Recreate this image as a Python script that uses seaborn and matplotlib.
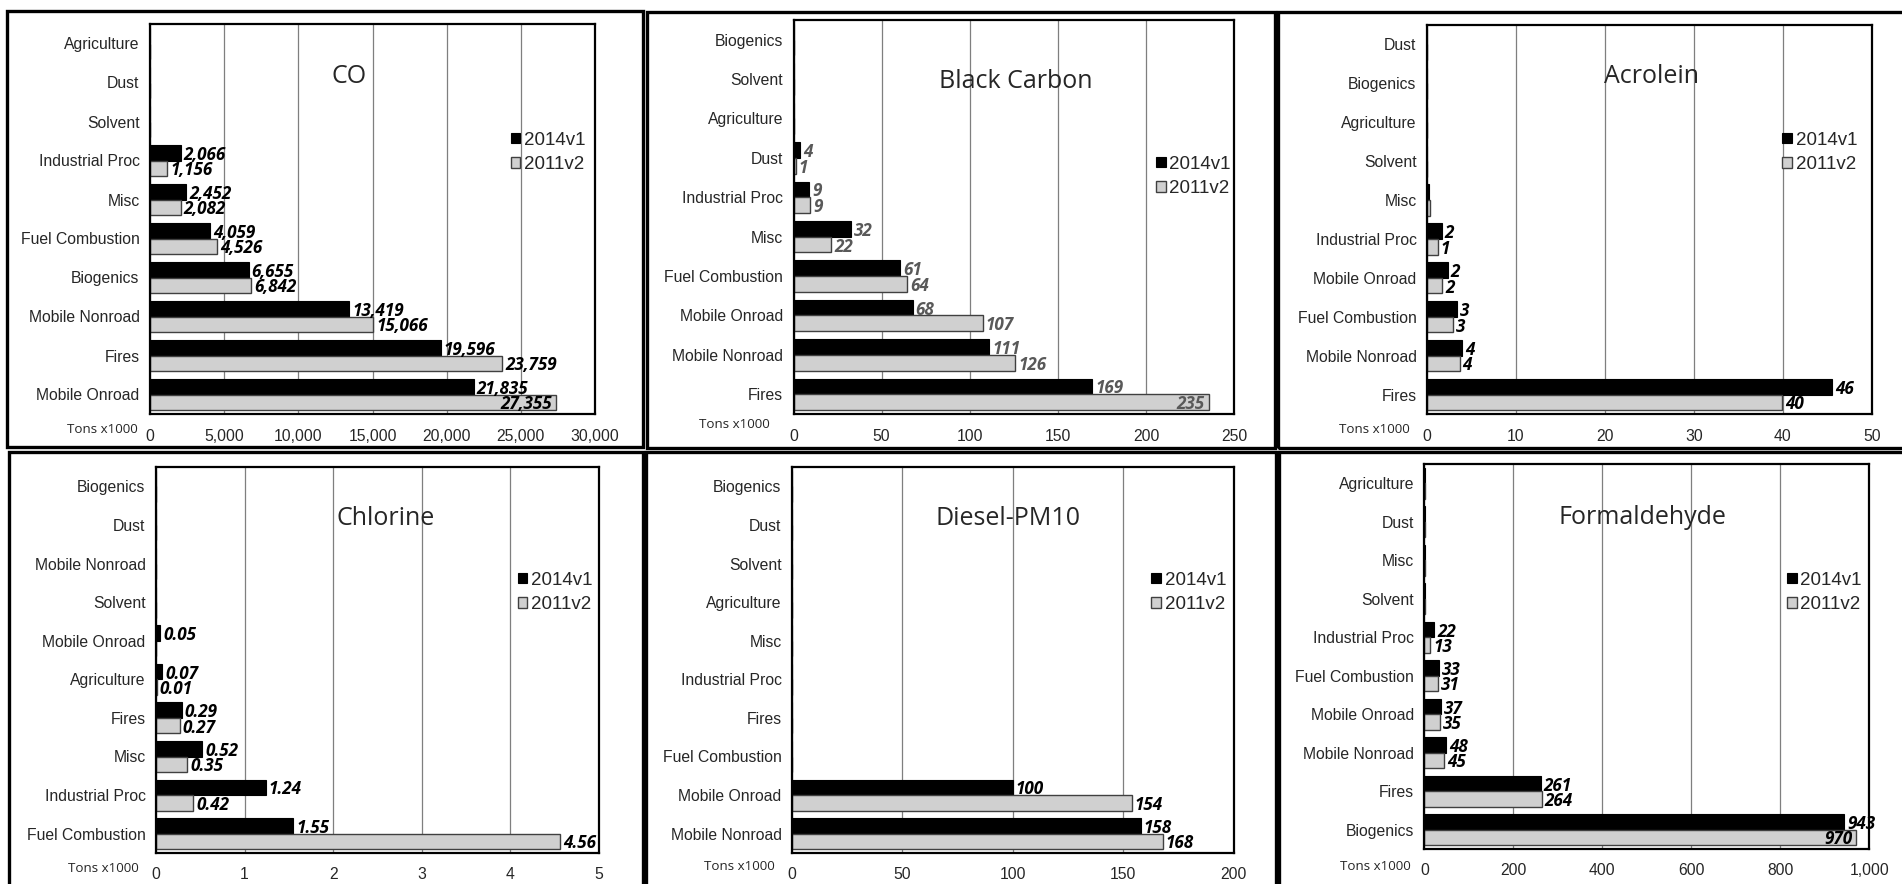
import numpy as np
import pandas as pd
import matplotlib
matplotlib.use("Agg")
import matplotlib.pyplot as plt
import seaborn as sns
from matplotlib.patches import Patch, Rectangle
from matplotlib.font_manager import FontProperties

# ---------------- data ----------------
SERIES = ["2014v1", "2011v2"]

CO_CATS = ["Agriculture", "Dust", "Solvent", "Industrial Proc", "Misc", "Fuel Combustion",
           "Biogenics", "Mobile Nonroad", "Fires", "Mobile Onroad"]
CO_2014 = [20, 25, 5, 2066, 2452, 4059, 6655, 13419, 19596, 21835]
CO_2011 = [15, 20, 5, 1156, 2082, 4526, 6842, 15066, 23759, 27355]
CO_TICKS = [0, 5000, 10000, 15000, 20000, 25000, 30000]

BC_CATS = ["Biogenics", "Solvent", "Agriculture", "Dust", "Industrial Proc", "Misc",
           "Fuel Combustion", "Mobile Onroad", "Mobile Nonroad", "Fires"]
BC_2014 = [0, 0.3, 0.3, 3.7, 8.8, 32.4, 60.6, 67.6, 110.9, 169.4]
BC_2011 = [0, 0.2, 0.2, 1.3, 9.3, 21.5, 64.4, 107.2, 125.9, 235.4]
BC_TICKS = [0, 50, 100, 150, 200, 250]

AC_CATS = ["Dust", "Biogenics", "Agriculture", "Solvent", "Misc", "Industrial Proc",
           "Mobile Onroad", "Fuel Combustion", "Mobile Nonroad", "Fires"]
AC_2014 = [0, 0, 0.05, 0.05, 0.28, 1.65, 2.34, 3.39, 3.94, 45.55]
AC_2011 = [0, 0, 0.03, 0.04, 0.37, 1.19, 1.70, 2.94, 3.67, 39.86]
AC_TICKS = [0, 10, 20, 30, 40, 50]

CL_CATS = ["Biogenics", "Dust", "Mobile Nonroad", "Solvent", "Mobile Onroad", "Agriculture",
           "Fires", "Misc", "Industrial Proc", "Fuel Combustion"]
CL_2014 = [0, 0, 0, 0, 0.05, 0.07, 0.29, 0.52, 1.24, 1.55]
CL_2011 = [0, 0, 0, 0, 0.002, 0.01, 0.27, 0.35, 0.42, 4.56]
CL_TICKS = [0, 1, 2, 3, 4, 5]

DP_CATS = ["Biogenics", "Dust", "Solvent", "Agriculture", "Misc", "Industrial Proc",
           "Fires", "Fuel Combustion", "Mobile Onroad", "Mobile Nonroad"]
DP_2014 = [0, 0, 0, 0, 0, 0, 0, 0, 100, 158]
DP_2011 = [0, 0, 0, 0, 0, 0, 0, 0, 154, 168]
DP_TICKS = [0, 50, 100, 150, 200]

FO_CATS = ["Agriculture", "Dust", "Misc", "Solvent", "Industrial Proc", "Fuel Combustion",
           "Mobile Onroad", "Mobile Nonroad", "Fires", "Biogenics"]
FO_2014 = [1.5, 1.5, 1.5, 1.5, 22, 33, 37, 48, 261, 943]
FO_2011 = [1, 1, 1, 1, 13, 31, 35, 45, 264, 970]
FO_TICKS = [0, 200, 400, 600, 800, 1000]

UNIT_LABEL = "Tons x1000"

# ---------------- style ----------------
sns.set_style("white")
plt.rcParams["font.family"] = ["Liberation Sans", "DejaVu Sans"]

W, H = 1902, 884
fig = plt.figure(figsize=(W / 100, H / 100), dpi=100)

C14 = "#000000"
C11 = "#d0d0d0"
EDGE11 = "#404040"


def fx(x):
    return x / W


def fy(y):
    return 1 - y / H


panels = [
    dict(title="CO", cats=CO_CATS, v14=CO_2014, v11=CO_2011, ticks=CO_TICKS,
         tfmt="{:,.0f}", lfmt="{:,.0f}", lcol="black", minlab=100, inside=["Mobile Onroad"],
         box=(150, 24, 595, 414), leg=(511, 152.5), tpos=(349, 83.3), upos=(138, 429),
         frame=(6.5, 10.5, 643, 447), pad=11),
    dict(title="Black Carbon", cats=BC_CATS, v14=BC_2014, v11=BC_2011, ticks=BC_TICKS,
         tfmt="{:.0f}", lfmt="{:.0f}", lcol="#595959", minlab=0.5, inside=["Fires"],
         box=(793.5, 20, 1234.3, 414), leg=(1156.3, 176.5), tpos=(1015.5, 88.3), upos=(770, 424),
         frame=(647, 11.5, 1275, 448), pad=11),
    dict(title="Acrolein", cats=AC_CATS, v14=AC_2014, v11=AC_2011, ticks=AC_TICKS,
         tfmt="{:.0f}", lfmt="{:.0f}", lcol="black", minlab=0.5, inside=[],
         box=(1427, 25, 1872, 414), leg=(1782.4, 152.5), tpos=(1651.8, 83.3), upos=(1410, 429),
         frame=(1278, 11.5, 1930, 448), pad=11),
    dict(title="Chlorine", cats=CL_CATS, v14=CL_2014, v11=CL_2011, ticks=CL_TICKS,
         tfmt="{:.0f}", lfmt="{:.2f}", lcol="black", minlab=0.005, inside=[],
         box=(156, 467, 599, 853), leg=(517.6, 592.5), tpos=(385.7, 525), upos=(139, 868),
         frame=(9, 452, 643, 920), pad=10),
    dict(title="Diesel-PM10", cats=DP_CATS, v14=DP_2014, v11=DP_2011, ticks=DP_TICKS,
         tfmt="{:.0f}", lfmt="{:.0f}", lcol="black", minlab=0.5, inside=[],
         box=(792, 467, 1233.5, 853), leg=(1151.4, 592.5), tpos=(1008.2, 525), upos=(775, 867),
         frame=(645.5, 452, 1276, 920), pad=10),
    dict(title="Formaldehyde", cats=FO_CATS, v14=FO_2014, v11=FO_2011, ticks=FO_TICKS,
         tfmt="{:,.0f}", lfmt="{:,.0f}", lcol="black", minlab=5, inside=["Biogenics"],
         box=(1424.4, 464, 1869.3, 849), leg=(1787.3, 592.5), tpos=(1642, 524), upos=(1411, 867),
         frame=(1279, 452, 1930, 920), pad=10),
]

tick_fp = FontProperties(family=["Liberation Sans", "DejaVu Sans"], size=11.3)
leg_fp = FontProperties(family=["Liberation Sans", "DejaVu Sans"], size=13.5)
lab_fp = FontProperties(family=["Open Sans", "DejaVu Sans"], size=12.3, weight="bold", style="italic")
title_fp = FontProperties(family=["Open Sans", "DejaVu Sans"], size=18)
unit_fp = FontProperties(family=["Open Sans", "DejaVu Sans"], size=9.6)

for p in panels:
    l, t, r, b = p["box"]
    ax = fig.add_axes([fx(l), fy(b), (r - l) / W, (b - t) / H])

    df = pd.DataFrame({
        "category": list(p["cats"]) * 2,
        "series": [SERIES[0]] * len(p["cats"]) + [SERIES[1]] * len(p["cats"]),
        "value": list(p["v14"]) + list(p["v11"]),
    })
    sns.barplot(data=df, x="value", y="category", hue="series", order=p["cats"],
                hue_order=SERIES, palette={SERIES[0]: C14, SERIES[1]: C11},
                orient="h", width=0.8, dodge=True, saturation=1, errorbar=None,
                legend=False, ax=ax, zorder=3)

    for k, cont in enumerate(ax.containers[:2]):
        for patch in cont:
            if k == 0:
                patch.set_edgecolor("black")
                patch.set_linewidth(0.8)
            else:
                patch.set_edgecolor(EDGE11)
                patch.set_linewidth(1.0)

    xmax = p["ticks"][-1]
    ax.set_xlim(0, xmax)
    ax.set_ylim(len(p["cats"]) - 0.5, -0.5)
    ax.set_xticks(p["ticks"])
    ax.set_xticklabels([p["tfmt"].format(v) for v in p["ticks"]], fontproperties=tick_fp)
    ax.set_yticks(range(len(p["cats"])))
    ax.set_yticklabels(p["cats"], fontproperties=tick_fp)
    ax.tick_params(axis="both", length=0)
    ax.tick_params(axis="x", pad=p["pad"])
    ax.tick_params(axis="y", pad=7.5)
    ax.set_xlabel("")
    ax.set_ylabel("")
    ax.xaxis.grid(True, color="#7f7f7f", linewidth=0.9, zorder=0)
    ax.yaxis.grid(False)
    ax.set_axisbelow(True)
    for s in ax.spines.values():
        s.set_visible(True)
        s.set_color("black")
        s.set_linewidth(1.6)
        s.set_zorder(5)

    # value labels
    for k, cont in enumerate(ax.containers[:2]):
        vals = p["v14"] if k == 0 else p["v11"]
        for cat, val, patch in zip(p["cats"], vals, cont):
            if val < p["minlab"]:
                continue
            yc = patch.get_y() + patch.get_height() / 2
            txt = p["lfmt"].format(val)
            if k == 1 and cat in p["inside"]:
                ax.annotate(txt, xy=(val, yc), xytext=(-4, 0), textcoords="offset pixels",
                            ha="right", va="center_baseline", color=p["lcol"],
                            fontproperties=lab_fp, zorder=6, annotation_clip=False)
            else:
                ax.annotate(txt, xy=(val, yc), xytext=(3, 0), textcoords="offset pixels",
                            ha="left", va="center_baseline", color=p["lcol"],
                            fontproperties=lab_fp, zorder=6, annotation_clip=False)

    # legend
    handles = [Patch(facecolor=C14, edgecolor="black", linewidth=0.8),
               Patch(facecolor=C11, edgecolor=EDGE11, linewidth=1.0)]
    lx, ly = p["leg"]
    ax.legend(handles, SERIES, loc="center left", bbox_to_anchor=(fx(lx), fy(ly)),
              bbox_transform=fig.transFigure, frameon=False, borderpad=0, borderaxespad=0,
              handlelength=0.5, handleheight=0.5, handletextpad=0.2, labelspacing=0.4,
              prop=leg_fp)

    # title
    tx, ty = p["tpos"]
    fig.text(fx(tx), fy(ty), p["title"], ha="center", va="baseline", fontproperties=title_fp)

    # unit label
    ux, uy = p["upos"]
    fig.text(fx(ux), fy(uy), UNIT_LABEL, ha="right", va="center", fontproperties=unit_fp)

    # panel frame
    fl, ft, fr, fb = p["frame"]
    fig.add_artist(Rectangle((fx(fl), fy(fb)), (fr - fl) / W, (fb - ft) / H,
                             transform=fig.transFigure, fill=False, edgecolor="black",
                             linewidth=2.4, zorder=10))

fig.savefig("out.png", dpi=100, facecolor="white")
